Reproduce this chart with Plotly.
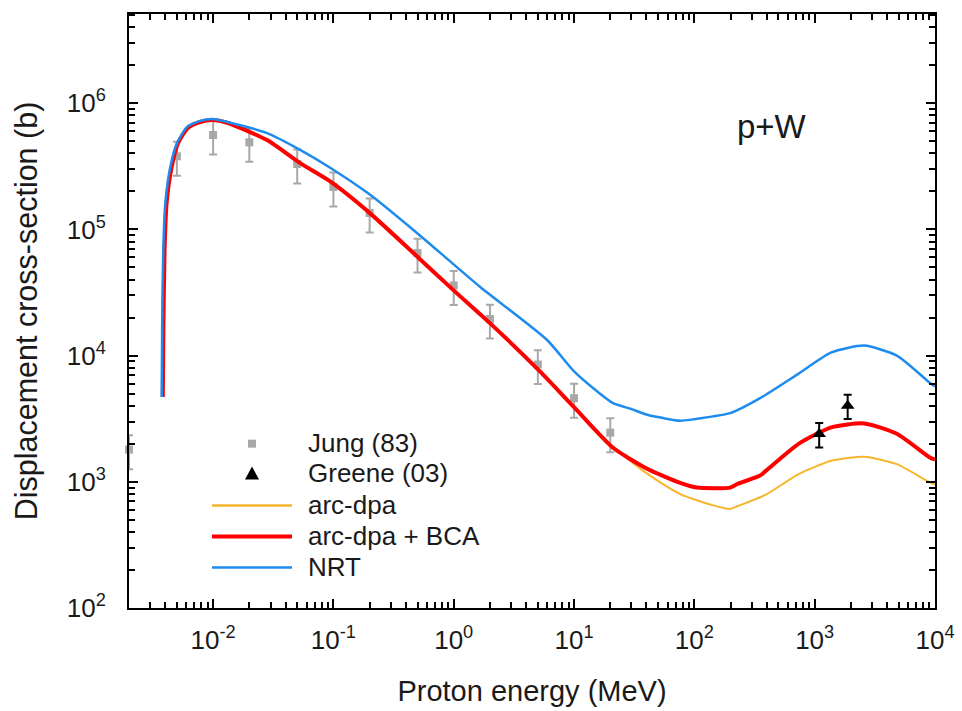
import plotly.graph_objects as go

# ---------------- data ----------------
jung_E = [0.002, 0.005, 0.01, 0.02, 0.05, 0.1, 0.2, 0.5, 1, 2, 5, 10, 20]
jung_Y = [1.8e3, 3.8e5, 5.6e5, 4.9e5, 3.3e5, 2.17e5, 1.35e5, 6.5e4, 3.6e4, 1.95e4, 8.5e3, 4.6e3, 2.45e3]
jung_err_pct = 30

greene_E = [1090, 1880]
greene_Y = [2.39e3, 4.0e3]
greene_err_plus = [530, 900]
greene_err_minus = [520, 850]

nrt_E = [0.00374, 0.00377, 0.00385, 0.00401, 0.0044, 0.00502, 0.00608, 0.0078, 0.01, 0.0131,
         0.0281, 0.0529, 0.094, 0.202, 0.506, 1.66, 5.97, 10, 15.6, 21.1, 29.2, 40.5, 55,
         76.3, 143, 198.5, 352, 735, 1374, 2575, 4820, 9040, 10000]
nrt_Y = [4.7e3, 1.6e4, 6.8e4, 1.63e5, 3.1e5, 4.85e5, 6.5e5, 7.25e5, 7.5e5, 7.1e5,
         5.8e5, 4.27e5, 3.08e5, 1.88e5, 9.2e4, 3.5e4, 1.33e4, 7.5e3, 5.2e3, 4.2e3, 3.8e3, 3.4e3, 3.2e3,
         3.05e3, 3.3e3, 3.5e3, 4.6e3, 7.2e3, 1.06e4, 1.2e4, 1.0e4, 6.1e3, 5.7e3]

bca_E = [0.00382, 0.00386, 0.00395, 0.00411, 0.00452, 0.00512, 0.0062, 0.0078, 0.01, 0.0131,
         0.0281, 0.0529, 0.094, 0.202, 0.506, 1.03, 2.01, 5.13, 10, 21.1, 40.5, 76.3,
         105, 198.5, 227, 352, 392, 735, 1374, 2575, 4820, 9040, 10000]
bca_Y = [4.7e3, 1.6e4, 6.8e4, 1.63e5, 3.1e5, 4.85e5, 6.4e5, 7.1e5, 7.35e5, 7.0e5,
         5.1e5, 3.35e5, 2.4e5, 1.34e5, 6.0e4, 3.2e4, 1.8e4, 7.6e3, 3.9e3, 1.86e3, 1.27e3, 9.8e2,
         9.0e2, 9.0e2, 9.6e2, 1.12e3, 1.22e3, 2.0e3, 2.7e3, 2.9e3, 2.4e3, 1.56e3, 1.5e3]

arc_E = [0.00382, 0.00386, 0.00395, 0.00411, 0.00452, 0.00512, 0.0062, 0.0078, 0.01, 0.0131,
         0.0281, 0.0529, 0.094, 0.202, 0.506, 1.03, 2.01, 5.13, 10, 21.1, 22.8, 40.5, 76.3,
         143, 198.5, 227, 392, 735, 1374, 2575, 4820, 9040, 10000]
arc_Y = [4.7e3, 1.6e4, 6.8e4, 1.63e5, 3.1e5, 4.85e5, 6.4e5, 7.1e5, 7.35e5, 7.0e5,
         5.1e5, 3.35e5, 2.4e5, 1.34e5, 6.0e4, 3.2e4, 1.8e4, 7.6e3, 3.9e3, 1.86e3, 1.76e3, 1.16e3, 8.0e2,
         6.5e2, 6.1e2, 6.4e2, 7.9e2, 1.15e3, 1.47e3, 1.58e3, 1.38e3, 9.9e2, 9.5e2]

x_tickvals = [1e-2, 1e-1, 1e0, 1e1, 1e2, 1e3, 1e4]
x_ticktext = ["10<sup>-2</sup>", "10<sup>-1</sup>", "10<sup>0</sup>", "10<sup>1</sup>",
              "10<sup>2</sup>", "10<sup>3</sup>", "10<sup>4</sup>"]
y_tickvals = [1e2, 1e3, 1e4, 1e5, 1e6]
y_ticktext = ["10<sup>2</sup>", "10<sup>3</sup>", "10<sup>4</sup>", "10<sup>5</sup>", "10<sup>6</sup>"]

legend_names = ["Jung (83)", "Greene (03)", "arc-dpa", "arc-dpa + BCA", "NRT"]

# ---------------- styles ----------------
FONT = "Liberation Sans, Arial, sans-serif"
C_NRT = "#1E8BEF"
C_BCA = "#FF0000"
C_ARC = "#F6B62B"
C_JUNG = "#A8A8A8"
C_GREENE = "#000000"
TXT = "#1a1a1a"

W, H = 962, 711
ML, MR, MT, MB = 129, 27, 14, 102.5
PW, PH = W - ML - MR, H - MT - MB
X_RANGE = [-2.699, 4]
Y_RANGE = [2, 6.707]

# minor tick positions (2..9 x 10^k)
x_minor = [m * 10.0 ** k for k in range(-3, 4) for m in range(2, 10)]
y_minor = [m * 10.0 ** k for k in range(2, 7) for m in range(2, 10)]


def px2x(px):
    return (px - ML) / PW


def py2y(py):
    return (H - MB - py) / PH


fig = go.Figure()

fig.add_trace(go.Scatter(
    x=jung_E, y=jung_Y, mode="markers", name=legend_names[0], cliponaxis=False,
    marker=dict(symbol="square", size=8, color=C_JUNG),
    error_y=dict(type="percent", value=jung_err_pct, color=C_JUNG, thickness=2, width=4),
    showlegend=False))

SPL = dict(shape="spline", smoothing=0.6)
fig.add_trace(go.Scatter(x=arc_E, y=arc_Y, mode="lines", name=legend_names[2],
                         line=dict(color=C_ARC, width=2, **SPL), showlegend=False))
fig.add_trace(go.Scatter(x=bca_E, y=bca_Y, mode="lines", name=legend_names[3],
                         line=dict(color=C_BCA, width=4, **SPL), showlegend=False))
fig.add_trace(go.Scatter(x=nrt_E, y=nrt_Y, mode="lines", name=legend_names[4],
                         line=dict(color=C_NRT, width=2.5, **SPL), showlegend=False))

fig.add_trace(go.Scatter(
    x=greene_E, y=greene_Y, mode="markers", name=legend_names[1],
    marker=dict(symbol="triangle-up", size=12, color=C_GREENE),
    error_y=dict(type="data", array=greene_err_plus, arrayminus=greene_err_minus,
                 color=C_GREENE, thickness=2, width=4),
    showlegend=False))

# invisible traces that anchor the tick-only axes carrying the minor ticks
for xa, ya in (("x2", "y2"), ("x3", "y3")):
    fig.add_trace(go.Scatter(x=nrt_E, y=nrt_Y, xaxis=xa, yaxis=ya, mode="lines",
                             line=dict(width=0), opacity=0, hoverinfo="skip", showlegend=False))

base = dict(type="log", ticks="inside", tickcolor="black", showgrid=False, zeroline=False)


def minor_axis(vals, rng, **kw):
    return dict(**base, ticklen=6, tickwidth=1.5, tickmode="array", tickvals=vals,
                showticklabels=False, showline=False, range=rng, **kw)


fig.update_layout(
    xaxis=dict(**base, ticklen=9, tickwidth=1.6, showline=True, linewidth=2, linecolor="black",
               mirror="allticks", range=X_RANGE, tickmode="array", tickvals=x_tickvals,
               ticktext=x_ticktext, ticklabelstandoff=8,
               tickfont=dict(family=FONT, size=26, color=TXT),
               title=dict(text="Proton energy (MeV)", font=dict(family=FONT, size=29, color=TXT),
                          standoff=26)),
    yaxis=dict(**base, ticklen=9, tickwidth=1.6, showline=True, linewidth=2, linecolor="black",
               mirror="allticks", range=Y_RANGE, tickmode="array", tickvals=y_tickvals,
               ticktext=y_ticktext, ticklabelstandoff=16,
               tickfont=dict(family=FONT, size=26, color=TXT),
               title=dict(text="Displacement cross-section (b)",
                          font=dict(family=FONT, size=30.5, color=TXT), standoff=20)),
    xaxis2=minor_axis(x_minor, X_RANGE, overlaying="x", side="bottom", anchor="y2"),
    yaxis2=minor_axis(y_minor, Y_RANGE, overlaying="y", side="left", anchor="x2"),
    xaxis3=minor_axis(x_minor, X_RANGE, overlaying="x", side="top", anchor="y3"),
    yaxis3=minor_axis(y_minor, Y_RANGE, overlaying="y", side="right", anchor="x3"),
)

# ---------------- manual legend ----------------
leg_rows = [444, 474, 506, 537, 568]
shapes = []
shapes.append(dict(type="rect", xref="paper", yref="paper",
                   x0=px2x(248), x1=px2x(256), y0=py2y(448), y1=py2y(440),
                   fillcolor=C_JUNG, line=dict(width=0)))
tx, ty = 252, leg_rows[1]
shapes.append(dict(type="path", xref="paper", yref="paper",
                   path=f"M {px2x(tx-7)} {py2y(ty+6)} L {px2x(tx+7)} {py2y(ty+6)} L {px2x(tx)} {py2y(ty-7)} Z",
                   fillcolor=C_GREENE, line=dict(width=0)))
for row, col, wid in zip(leg_rows[2:], [C_ARC, C_BCA, C_NRT], [2.5, 4, 2.5]):
    shapes.append(dict(type="line", xref="paper", yref="paper",
                       x0=px2x(212), x1=px2x(292), y0=py2y(row), y1=py2y(row),
                       line=dict(color=col, width=wid)))

annotations = []
for name, row in zip(legend_names, leg_rows):
    annotations.append(dict(text=name, xref="paper", yref="paper", x=px2x(306), y=py2y(row - 1),
                            xanchor="left", yanchor="middle", showarrow=False,
                            font=dict(family=FONT, size=26, color=TXT)))
annotations.append(dict(text="p+W", xref="paper", yref="paper", x=px2x(772), y=py2y(127),
                        xanchor="center", yanchor="middle", showarrow=False,
                        font=dict(family=FONT, size=33, color=TXT)))

fig.update_layout(
    width=W, height=H, margin=dict(l=ML, r=MR, t=MT, b=MB, autoexpand=False),
    plot_bgcolor="white", paper_bgcolor="white",
    shapes=shapes, annotations=annotations, showlegend=False,
)

fig.write_html("out.html")
